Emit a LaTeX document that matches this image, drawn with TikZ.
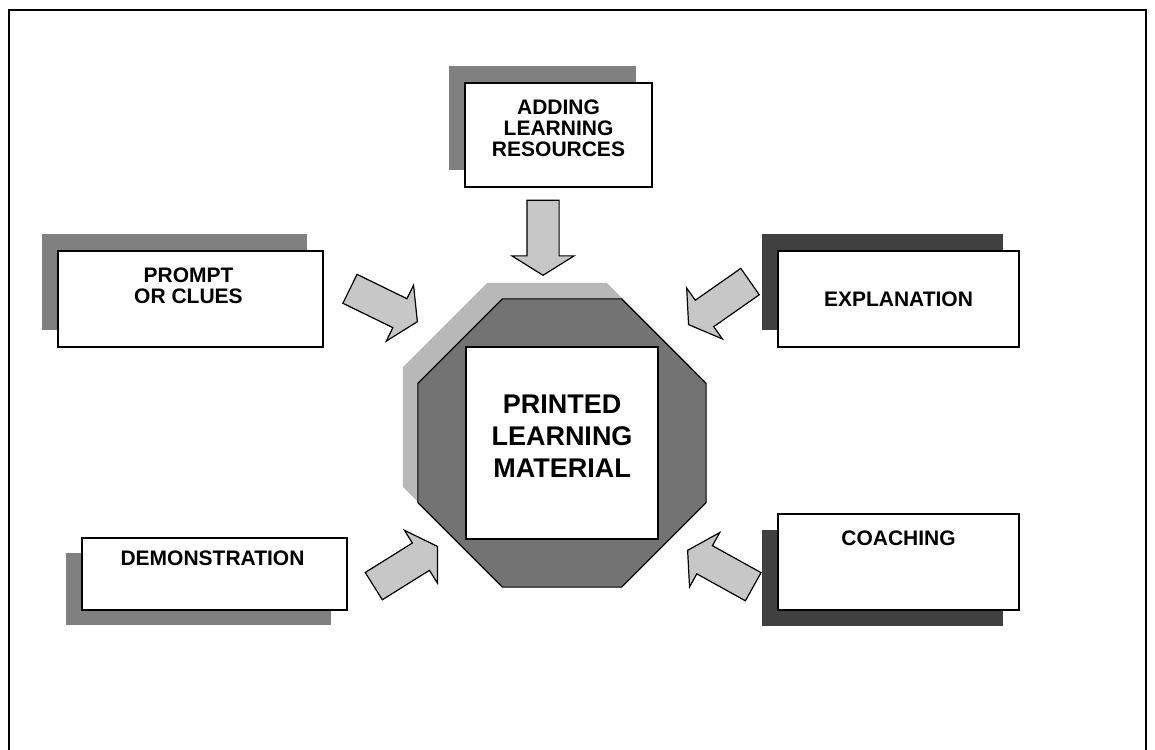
\documentclass[tikz,border=0pt]{standalone}
\usepackage{fontspec}
\setmainfont{Liberation Sans}
\usetikzlibrary{shapes,shapes.geometric,shapes.arrows,shadows}

\begin{document}
\begin{tikzpicture}[x=1pt,y=-1pt]

	\tikzstyle{box}   = [rectangle, draw=black, line width=1.2pt, fill=white, inner sep=0pt]
	\tikzstyle{up shade}   = [general shadow={fill=black!50, shadow xshift=-16pt, shadow yshift=17pt}]
	\tikzstyle{down shade} = [general shadow={fill=black!50, shadow xshift=-16pt, shadow yshift=-15pt}]
	\tikzstyle{dark up shade}   = [general shadow={fill=black!75, shadow xshift=-16pt, shadow yshift=17pt}]
	\tikzstyle{dark down shade} = [general shadow={fill=black!75, shadow xshift=-16pt, shadow yshift=-16pt}]
	\tikzstyle{txt} = [align=center, inner sep=0pt, anchor=north, font=\fontsize{21}{21}\selectfont\bfseries]
	\tikzstyle{blockarrow} = [single arrow, draw=black, line width=1.2pt, fill=black!22,
		inner xsep=0pt, inner ysep=15.5pt, minimum height=75pt, single arrow head extend=15pt,
		single arrow tip angle=116, anchor=tip]

	\useasboundingbox (0,0) rectangle (1155,749);
	\draw [line width=1.5pt] (9,760) -- (9,10) -- (1146,10) -- (1146,760);

	% centre
	\node [regular polygon, regular polygon sides=8, minimum size=312pt, inner sep=0pt,
		draw=black, line width=1.2pt, fill=black!55,
		general shadow={fill=black!28, shadow xshift=-15pt, shadow yshift=16pt}] (oct) at (562,443) {};
	\node [box, minimum size=192pt] (mat) at (oct.center) {};
	\node [align=center, inner sep=0pt, font=\fontsize{27}{32}\selectfont\bfseries] (mattxt)
		at ([yshift=7pt]mat.center) {PRINTED\\LEARNING\\MATERIAL};

	% boxes
	\node [box, up shade, minimum width=187pt, minimum height=104pt] (add) at (558.5,135) {};
	\node [txt] (addtxt) at ([yshift=-17pt]add.north) {ADDING\\LEARNING\\RESOURCES};

	\node [box, up shade, minimum width=265pt, minimum height=96pt] (prm) at (190.5,299) {};
	\node [txt] (prmtxt) at ([yshift=-17pt,xshift=-2pt]prm.north) {PROMPT\\OR CLUES};

	\node [box, dark up shade, minimum width=241pt, minimum height=96pt] (exp) at (898.5,299) {};
	\node [txt, anchor=center] (exptxt) at (exp.center) {EXPLANATION};

	\node [box, down shade, minimum width=265pt, minimum height=72pt] (dem) at (214.5,574) {};
	\node [txt] (demtxt) at ([yshift=-13pt,xshift=-2pt]dem.north) {DEMONSTRATION};

	\node [box, dark down shade, minimum width=241pt, minimum height=96pt] (coa) at (898.5,562) {};
	\node [txt] (coatxt) at ([yshift=-17pt]coa.north) {COACHING};

	% arrows
	\node [blockarrow, rotate=-90] (aadd) at (543,276) {};
	\node [blockarrow, rotate=-26] (aprm) at (418,322) {};
	\node [blockarrow, rotate=-145] (aexp) at (688,325) {};
	\node [blockarrow, rotate=32] (adem) at (438,546) {};
	\node [blockarrow, rotate=151] (acoa) at (687,550) {};

\end{tikzpicture}
\end{document}
